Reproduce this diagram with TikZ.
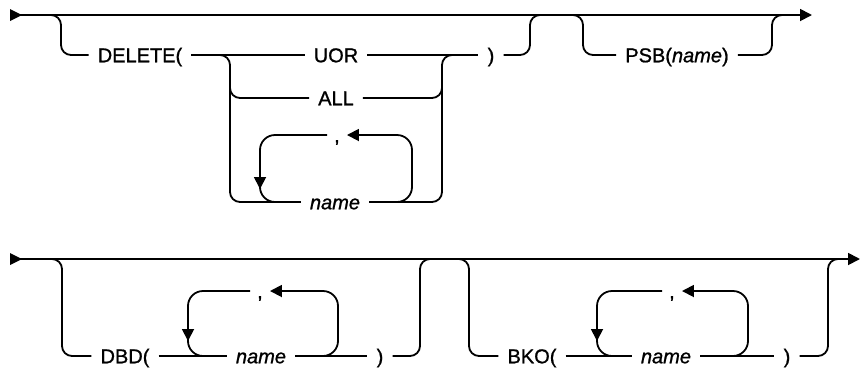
\documentclass[tikz,border=0pt]{standalone}
\usepackage{fontspec}
\setmainfont{Liberation Sans}[
  BoldFont={Liberation Sans}, BoldFeatures={FakeBold=1.0},
  BoldItalicFont={Liberation Sans Italic}, BoldItalicFeatures={FakeBold=1.0}]
\usetikzlibrary{arrows.meta}
\tikzset{
  rail/.style={line width=1.8pt, line join=round},
  railrc/.style={rail, rounded corners=10pt},
  railloop/.style={rail, rounded corners=15pt},
  lbl/.style={inner xsep=9pt, inner ysep=0pt, text height=14.5pt, text depth=0pt,
              font=\fontsize{20}{24}\selectfont\bfseries},
  commalbl/.style={lbl, inner xsep=7pt},
  arrowend/.style={-{Triangle[length=12pt,width=12pt]}},
  starttri/.style={fill=black},
}
\begin{document}
\begin{tikzpicture}[x=1pt, y=-1pt]
\useasboundingbox (0,0) rectangle (860,368);

% ---------------- top diagram ----------------
\coordinate (t0) at (10,15);
\coordinate (t1) at (812,15);
\fill[starttri] (t0) ++(0,-6) -- ++(12,6) -- ++(-12,6) -- cycle;
\draw[rail, arrowend] (t0) -- (t1);

\node[lbl] (del) at (140,55) {DELETE(};
\node[lbl] (uor) at (336,55) {UOR};
\node[lbl] (all) at (336,98) {ALL};
\node[commalbl] (c1) at (337,135) {,};
\node[lbl] (nm1) at (335,202) {\itshape name};
\node[lbl] (rp1) at (491,55) {)};
\node[lbl] (psb) at (677,55) {PSB(\textit{name})};

% optional DELETE group
\draw[railrc] (45,15) -- (61,15) -- (61,55) -- (del.west);
\draw[rail] (del.east) -- (uor.west);
\draw[rail] (uor.east) -- (rp1.west);
\draw[railrc] (rp1.east) -- (530,55) -- (530,15) -- (546,15);
% choice
\draw[railrc] (215,55) -- (230,55) -- (230,202) -- (nm1.west);
\draw[railrc] (230,85) -- (230,98) -- (all.west);
\draw[railrc] (all.east) -- (442,98) -- (442,85);
\draw[railrc] (nm1.east) -- (442,202) -- (442,55) -- (458,55);
% repeat loop
\draw[railloop, arrowend] (395,202) -- (412,202) -- (412,135) -- (c1.east);
\draw[railloop, arrowend] (c1.west) -- (260,135) -- (260,189);
\draw[railloop] (260,180) -- (260,202) -- (280,202);

% PSB group
\draw[railrc] (567,15) -- (583,15) -- (583,55) -- (psb.west);
\draw[railrc] (psb.east) -- (772,55) -- (772,15) -- (788,15);

% ---------------- bottom diagram ----------------
\coordinate (b0) at (10,259);
\coordinate (b1) at (860,259);
\fill[starttri] (b0) ++(0,-6) -- ++(12,6) -- ++(-12,6) -- cycle;
\draw[rail, arrowend] (b0) -- (b1);

\node[lbl] (dbd) at (125,356) {DBD(};
\node[commalbl] (c2) at (260,291) {,};
\node[lbl] (nm2) at (261,356) {\itshape name};
\node[lbl] (rp2) at (380,356) {)};

\draw[railrc] (46,259) -- (62,259) -- (62,356) -- (dbd.west);
\draw[rail] (dbd.east) -- (nm2.west);
\draw[rail] (nm2.east) -- (rp2.west);
\draw[railrc] (rp2.east) -- (420,356) -- (420,259) -- (436,259);
\draw[railloop, arrowend] (321,356) -- (338,356) -- (338,291) -- (c2.east);
\draw[railloop, arrowend] (c2.west) -- (188,291) -- (188,341);
\draw[railloop] (188,332) -- (188,356) -- (208,356);

\node[lbl] (bko) at (532,356) {BKO(};
\node[commalbl] (c3) at (672,291) {,};
\node[lbl] (nm3) at (666,356) {\itshape name};
\node[lbl] (rp3) at (787,356) {)};

\draw[railrc] (453,259) -- (469,259) -- (469,356) -- (bko.west);
\draw[rail] (bko.east) -- (nm3.west);
\draw[rail] (nm3.east) -- (rp3.west);
\draw[railrc] (rp3.east) -- (828,356) -- (828,259) -- (844,259);
\draw[railloop, arrowend] (731,356) -- (748,356) -- (748,291) -- (c3.east);
\draw[railloop, arrowend] (c3.west) -- (597,291) -- (597,341);
\draw[railloop] (597,332) -- (597,356) -- (617,356);
\end{tikzpicture}
\end{document}
